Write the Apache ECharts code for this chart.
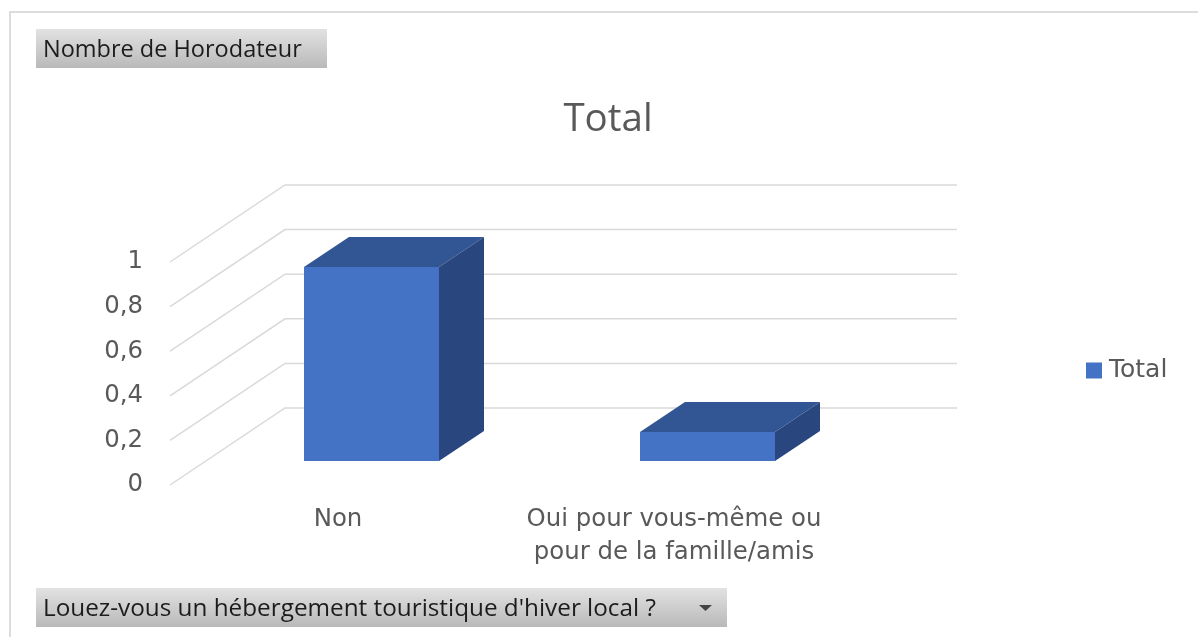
<!DOCTYPE html>
<html>
<head>
<meta charset="utf-8">
<style>html,body{margin:0;padding:0;background:#fff}#c{width:1198px;height:637px}</style>
<script src="https://cdn.jsdelivr.net/npm/echarts@6/dist/echarts.min.js"></script>
</head>
<body>
<div id="c"></div>
<script>
var categories = ['Non', 'Oui pour vous-même ou\npour de la famille/amis'];
var totals = [0.87, 0.13];
var gridValues = [0, 0.2, 0.4, 0.6, 0.8, 1];
var seriesName = 'Total';
var titleText = 'Total';
var pageFilter = 'Nombre de Horodateur';
var axisFilter = "Louez-vous un hébergement touristique d'hiver local ?";

var FONT = '"Open Sans", "Noto Sans", sans-serif';
var WIDE = '"DejaVu Sans", "Open Sans", sans-serif';
var WALL = [115, -77], SHIFT = [33.5, -24], DEPTH = [45, -30], BAR_W = 135;

var chart = echarts.init(document.getElementById('c'), null, {renderer: 'canvas'});

function renderWall(params, api) {
  var cs = params.coordSys;
  var y = api.coord([0, api.value(0)])[1];
  return {
    type: 'polyline', silent: true,
    shape: {points: [[cs.x, y], [cs.x + WALL[0], y + WALL[1]], [cs.x + cs.width + WALL[0], y + WALL[1]]]},
    style: {fill: null, stroke: '#d9d9d9', lineWidth: 1.5}
  };
}

function renderBar(params, api) {
  var idx = api.value(0), v = api.value(1);
  var top = api.coord([idx, v]), base = api.coord([idx, 0]);
  var x0 = top[0] + SHIFT[0] - BAR_W / 2, x1 = x0 + BAR_W;
  var yT = top[1] + SHIFT[1], yB = base[1] + SHIFT[1];
  var dx = DEPTH[0], dy = DEPTH[1];
  return {
    type: 'group',
    children: [
      {type: 'polygon', shape: {points: [[x0, yT], [x1, yT], [x1 + dx, yT + dy], [x0 + dx, yT + dy]]},
       style: {fill: '#325694'}},
      {type: 'polygon', shape: {points: [[x1, yT], [x1 + dx, yT + dy], [x1 + dx, yB + dy], [x1, yB]]},
       style: {fill: '#2a467e'}},
      {type: 'rect', shape: {x: x0, y: yT, width: BAR_W, height: yB - yT},
       style: {fill: '#4472c4'}}
    ]
  };
}

function filterButton(x, y, w, h, label, size) {
  return {
    type: 'group', children: [
      {type: 'rect', shape: {x: x, y: y, width: w, height: h},
       style: {fill: new echarts.graphic.LinearGradient(0, 0, 0, 1, [
         {offset: 0, color: '#e2e2e2'}, {offset: 1, color: '#b9b9b9'}])}},
      {type: 'text', x: x + 7, y: y + h / 2 + 1.5,
       style: {text: label, font: size + 'px ' + FONT, fill: '#1c1c1c', textVerticalAlign: 'middle', textAlign: 'left'}}
    ]
  };
}

chart.setOption({
  animation: false,
  backgroundColor: '#ffffff',
  title: {
    text: titleText, left: 603, top: 96, textAlign: 'center',
    textStyle: {fontFamily: FONT, fontSize: 38.5, fontWeight: 'normal', color: '#595959'}
  },
  legend: {
    data: [seriesName], left: 1081, top: 353, orient: 'vertical',
    icon: 'rect', itemWidth: 16, itemHeight: 16, itemGap: 0,
    textStyle: {fontFamily: WIDE, fontSize: 25, color: '#595959', padding: [0, 0, 0, 2]}
  },
  grid: {left: 170, width: 672, top: 262, height: 223, containLabel: false},
  xAxis: {
    type: 'category', data: categories,
    axisLine: {show: false}, axisTick: {show: false}, splitLine: {show: false},
    axisLabel: {fontFamily: WIDE, fontSize: 24.4, color: '#595959', margin: 18, lineHeight: 33, interval: 0}
  },
  yAxis: {
    type: 'value', min: 0, max: 1, interval: 0.2,
    axisLine: {show: false}, axisTick: {show: false}, splitLine: {show: false},
    axisLabel: {
      fontFamily: WIDE, fontSize: 24.4, color: '#595959', margin: 27, padding: [5, 0, 0, 0],
      formatter: function (v) { return String(+v.toFixed(1)).replace('.', ','); }
    }
  },
  series: [
    {type: 'custom', name: 'wall', renderItem: renderWall, clip: false, silent: true, z: 1,
     encode: {y: 0}, data: gridValues.map(function (v) { return [v]; })},
    {type: 'custom', name: seriesName, renderItem: renderBar, clip: false, z: 2,
     itemStyle: {color: '#4472c4'}, encode: {x: 0, y: 1},
     data: totals.map(function (v, i) { return [i, v]; })}
  ],
  graphic: {elements: [
    {type: 'polyline', shape: {points: [[10, 637], [10, 12], [1198, 12]]},
     style: {fill: null, stroke: '#dcdcdc', lineWidth: 2}},
    filterButton(36, 29, 291, 39, pageFilter, 23.5),
    filterButton(36, 588, 691, 39, axisFilter, 24.3),
    {type: 'polygon', shape: {points: [[699, 605], [712, 605], [705.5, 611]]}, style: {fill: '#444'}}
  ]}
});
</script>
</body>
</html>
